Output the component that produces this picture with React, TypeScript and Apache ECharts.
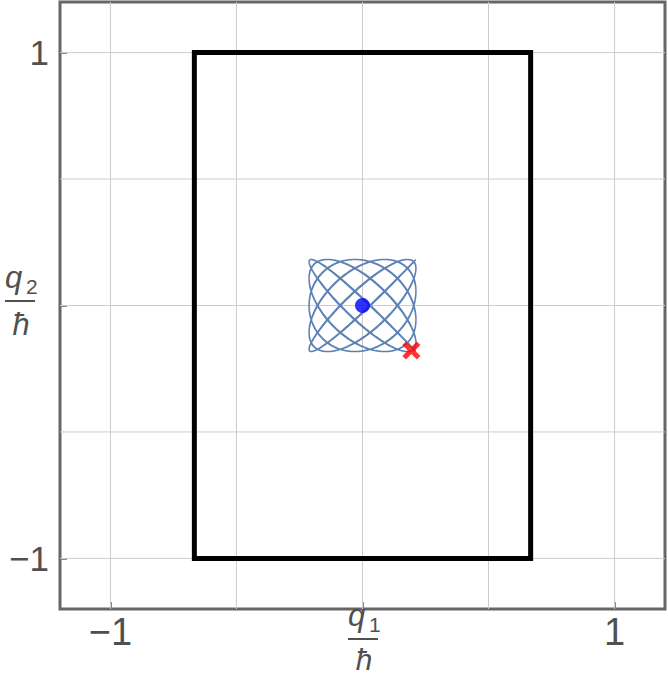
import React, { useEffect, useRef } from "react";
import * as echarts from "echarts";

// Axis ticks / labels
const tickValues = [-1, 0, 1];
const labelValues = [-1, 1];
const gridValues = [-1, -0.5, 0, 0.5, 1];
// Box (hard walls)
const boxX = [-0.667, 0.667];
const boxY = [-1, 1];
// Trajectory parameters (2D oscillator)
const amplitudes = [0.212, 0.182];
const frequencies = [1.0, 1.1];
const phases = [0.39, Math.PI + 0.21];
const duration = [62.8];
const steps = [3200];
// Markers
const centerPoint = [0, 0];
const startPoint = [0.194, -0.178];

function buildTrajectory(): number[][] {
  const pts: number[][] = [];
  const n = steps[0];
  for (let i = 0; i <= n; i++) {
    const t = (duration[0] * i) / n;
    pts.push([
      amplitudes[0] * Math.cos(frequencies[0] * t - phases[0]),
      amplitudes[1] * Math.cos(frequencies[1] * t + phases[1]),
    ]);
  }
  return pts;
}

const GRAY = "#505050";

export default function App() {
  const ref = useRef<HTMLDivElement>(null);
  useEffect(() => {
    if (!ref.current) return;
    const chart = echarts.init(ref.current, undefined, { renderer: "svg" });
    const fracText = (x: number, y: number, sub: string, hbarY: number, hbarSize: number) => ({
      type: "group",
      x,
      y,
      children: [
        {
          type: "text",
          x: 0,
          y: 0,
          style: {
            text: "q",
            font: "italic 31px 'Liberation Sans'",
            fill: GRAY,
            textAlign: "left",
            textVerticalAlign: "bottom",
          },
        },
        {
          type: "text",
          x: 21,
          y: 4,
          style: {
            text: sub,
            font: "21px 'Liberation Sans'",
            fill: GRAY,
            textAlign: "left",
            textVerticalAlign: "bottom",
          },
        },
        {
          type: "rect",
          shape: { x: 0, y: 7, width: 30, height: 2 },
          style: { fill: GRAY },
        },
        {
          type: "text",
          x: 16,
          y: hbarY,
          style: {
            text: "ħ",
            font: `italic ${hbarSize}px 'Liberation Sans'`,
            fill: GRAY,
            textAlign: "center",
            textVerticalAlign: "bottom",
          },
        },
      ],
    });
    const axisCommon = {
      type: "value",
      min: -1.2,
      max: 1.2,
      axisLine: { show: false, onZero: false },
      splitLine: { show: false },
      axisTick: {
        show: true,
        inside: true,
        length: 7,
        customValues: tickValues,
        lineStyle: { color: "#666", width: 1.5 },
      },
    };
    const labelCommon = {
      customValues: labelValues,
      formatter: (v: number) => (v < 0 ? "−1" : "1"),
      color: GRAY,
      fontFamily: "'Liberation Sans'",
    };
    const gridData = [
      ...gridValues.map((v) => [0, v]),
      ...gridValues.map((v) => [1, v]),
    ];
    chart.setOption({
      animation: false,
      grid: {
        left: 60,
        right: 3,
        top: 2,
        bottom: 66,
        show: true,
        borderColor: "#666",
        borderWidth: 3,
        backgroundColor: "#fff",
      },
      xAxis: { ...axisCommon, axisLabel: { ...labelCommon, fontSize: 38, margin: 4 } },
      yAxis: { ...axisCommon, axisLabel: { ...labelCommon, fontSize: 35, margin: 11 } },
      graphic: [fracText(348, 631, "1", 43, 30), fracText(5, 293, "2", 47, 31)],
      series: [
        {
          type: "custom",
          silent: true,
          z: 1,
          data: gridData,
          renderItem: (params: any, api: any) => {
            const dir = api.value(0);
            const v = api.value(1);
            const a = dir === 0 ? api.coord([v, -1.2]) : api.coord([-1.2, v]);
            const b = dir === 0 ? api.coord([v, 1.2]) : api.coord([1.2, v]);
            return {
              type: "line",
              shape: { x1: a[0], y1: a[1], x2: b[0], y2: b[1] },
              style: { stroke: "#cccccc", lineWidth: 1 },
            };
          },
        },
        {
          type: "custom",
          silent: true,
          z: 2,
          data: [[boxX[0], boxY[1], boxX[1], boxY[0]]],
          renderItem: (params: any, api: any) => {
            const p1 = api.coord([api.value(0), api.value(1)]);
            const p2 = api.coord([api.value(2), api.value(3)]);
            return {
              type: "rect",
              shape: { x: p1[0], y: p1[1], width: p2[0] - p1[0], height: p2[1] - p1[1] },
              style: { fill: "none", stroke: "#000", lineWidth: 5 },
            };
          },
        },
        {
          type: "line",
          data: buildTrajectory(),
          showSymbol: false,
          silent: true,
          lineStyle: { color: "#5e81b5", width: 1.5 },
          z: 3,
        },
        {
          type: "scatter",
          data: [centerPoint],
          symbol: "circle",
          symbolSize: 15,
          itemStyle: { color: "#0000ff" },
          z: 4,
        },
        {
          type: "scatter",
          data: [startPoint],
          symbol:
            "path://M2,0 L5,3 L8,0 L10,2 L7,5 L10,8 L8,10 L5,7 L2,10 L0,8 L3,5 L0,2 Z",
          symbolSize: 18,
          itemStyle: { color: "#ff0000" },
          z: 5,
        },
      ],
    });
    return () => chart.dispose();
  }, []);
  return <div ref={ref} style={{ width: 668, height: 675, position: "absolute", left: 0, top: 0 }} />;
}
